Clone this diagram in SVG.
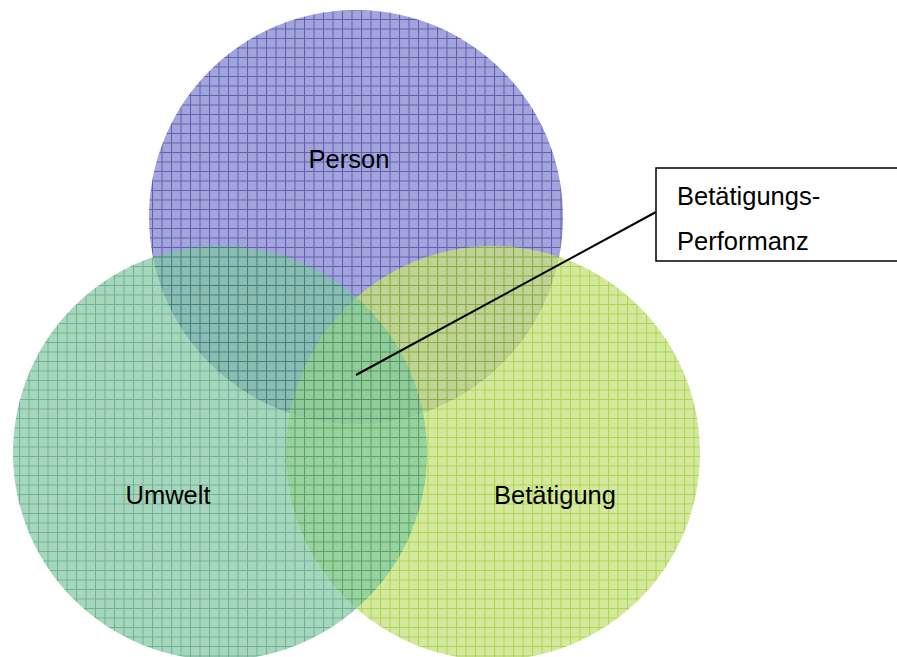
<svg xmlns="http://www.w3.org/2000/svg" width="897" height="657" viewBox="0 0 897 657">
<defs>
<style>
.lbl{font-family:"Liberation Sans",Arial,sans-serif;font-size:25.5px;fill:#000}
</style>
<pattern id="pP" width="9.5" height="9.5" patternUnits="userSpaceOnUse">
<rect width="9.5" height="9.5" fill="#a4a4dc"/>
<path d="M0 0.5H9.5M0.5 0V9.5" stroke="#5e5eb2" stroke-width="1"/>
</pattern>
<pattern id="pU" width="9.5" height="9.5" patternUnits="userSpaceOnUse">
<rect width="9.5" height="9.5" fill="#80c6a0"/>
<path d="M0 0.5H9.5M0.5 0V9.5" stroke="#2f9068" stroke-width="1"/>
</pattern>
<pattern id="pB" width="9.5" height="9.5" patternUnits="userSpaceOnUse">
<rect width="9.5" height="9.5" fill="#c6e27c"/>
<path d="M0 0.5H9.5M0.5 0V9.5" stroke="#92c618" stroke-width="1"/>
</pattern>
</defs>
<rect width="897" height="657" fill="#fff"/>
<g id="person"><circle cx="356" cy="217" r="207" fill="url(#pP)"/></g>
<g id="betaetigung"><circle cx="493" cy="453" r="207" fill="url(#pB)" opacity="0.75"/></g>
<g id="umwelt"><circle cx="220" cy="453" r="207" fill="url(#pU)" opacity="0.7"/></g>
<text class="lbl" x="349" y="168" text-anchor="middle">Person</text>
<text class="lbl" x="168" y="504" text-anchor="middle">Umwelt</text>
<text class="lbl" x="555" y="504" text-anchor="middle">Betätigung</text>
<g id="connectors"><line x1="356" y1="375" x2="656" y2="212" stroke="#000" stroke-width="2"/></g>
<g id="callout">
<rect x="656" y="168" width="250" height="93" fill="#fff" stroke="#000" stroke-width="1.5"/>
<text class="lbl" x="677" y="205">Betätigungs-</text>
<text class="lbl" x="677" y="250">Performanz</text>
</g>
</svg>
